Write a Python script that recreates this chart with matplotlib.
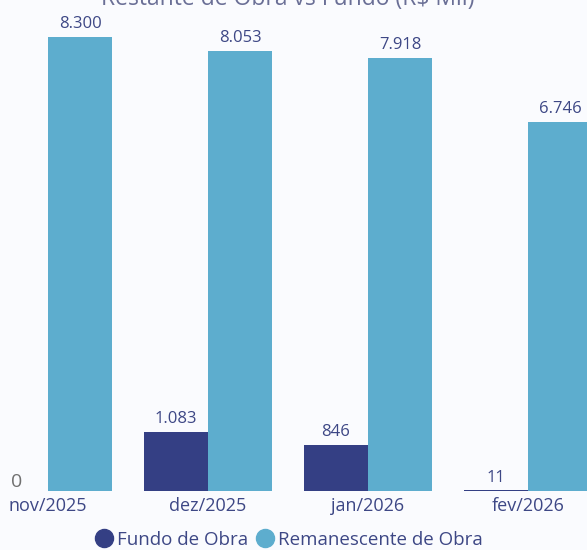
import numpy as np
import matplotlib.pyplot as plt
from matplotlib.lines import Line2D

months = ['nov/2025', 'dez/2025', 'jan/2026', 'fev/2026']
fundo = [0, 1083, 846, 11]
remanescente = [8300, 8053, 7918, 6746]
fundo_labels = ['', '1.083', '846', '11']
rem_labels = ['8.300', '8.053', '7.918', '6.746']

c_fundo = '#343f84'
c_rem = '#5dadce'
c_text = '#3d4785'
bg = '#fafbfe'

plt.rcParams['font.family'] = ['Open Sans', 'DejaVu Sans']

fig = plt.figure(figsize=(5.87, 5.5), dpi=100)
fig.patch.set_facecolor(bg)
ax = fig.add_axes([0, 1 - 491/550, 1, 491/550])
ax.set_facecolor(bg)

x = np.arange(len(months))
w = 0.4
b1 = ax.bar(x - w/2, fundo, w, color=c_fundo)
b2 = ax.bar(x + w/2, remanescente, w, color=c_rem)

# value labels above bars
for bars, labels in ((b1, fundo_labels), (b2, rem_labels)):
    for rect, lab in zip(bars, labels):
        if lab:
            ax.annotate(lab, (rect.get_x() + rect.get_width()/2, rect.get_height()),
                        xytext=(0, 3.5), textcoords='offset points', ha='center', va='bottom',
                        fontsize=12, color=c_text)

ax.set_xlim(-48/160, (587 - 48)/160)
ax.set_ylim(0, 491/(454/8300))
ax.set_xticks(x)
ax.set_xticklabels(months, fontsize=13, color=c_text)
ax.tick_params(axis='x', length=0, pad=4)
ax.set_yticks([])
for s in ax.spines.values():
    s.set_visible(False)
ax.text(17/587, 1, '0', transform=ax.get_yaxis_transform(), ha='center', va='bottom',
        fontsize=14, color='#707070')

# title sits mostly above the visible area, as in the source screenshot
fig.text(288/587, 1 + 1/550, 'Restante de Obra vs Fundo (R$ Mil)', ha='center', va='center',
         fontsize=16.5, color='#6a6f96')

handles = [Line2D([], [], marker='o', ls='', ms=13, color=c_fundo),
           Line2D([], [], marker='o', ls='', ms=13, color=c_rem)]
fig.legend(handles, ['Fundo de Obra', 'Remanescente de Obra'], loc='center',
           bbox_to_anchor=(290/587, 1 - 540/550), ncol=2, frameon=False, fontsize=13.5,
           labelcolor=c_text, handlelength=0.8, handletextpad=0.3, columnspacing=0.5)

fig.savefig('out.png', dpi=100, facecolor=bg)
